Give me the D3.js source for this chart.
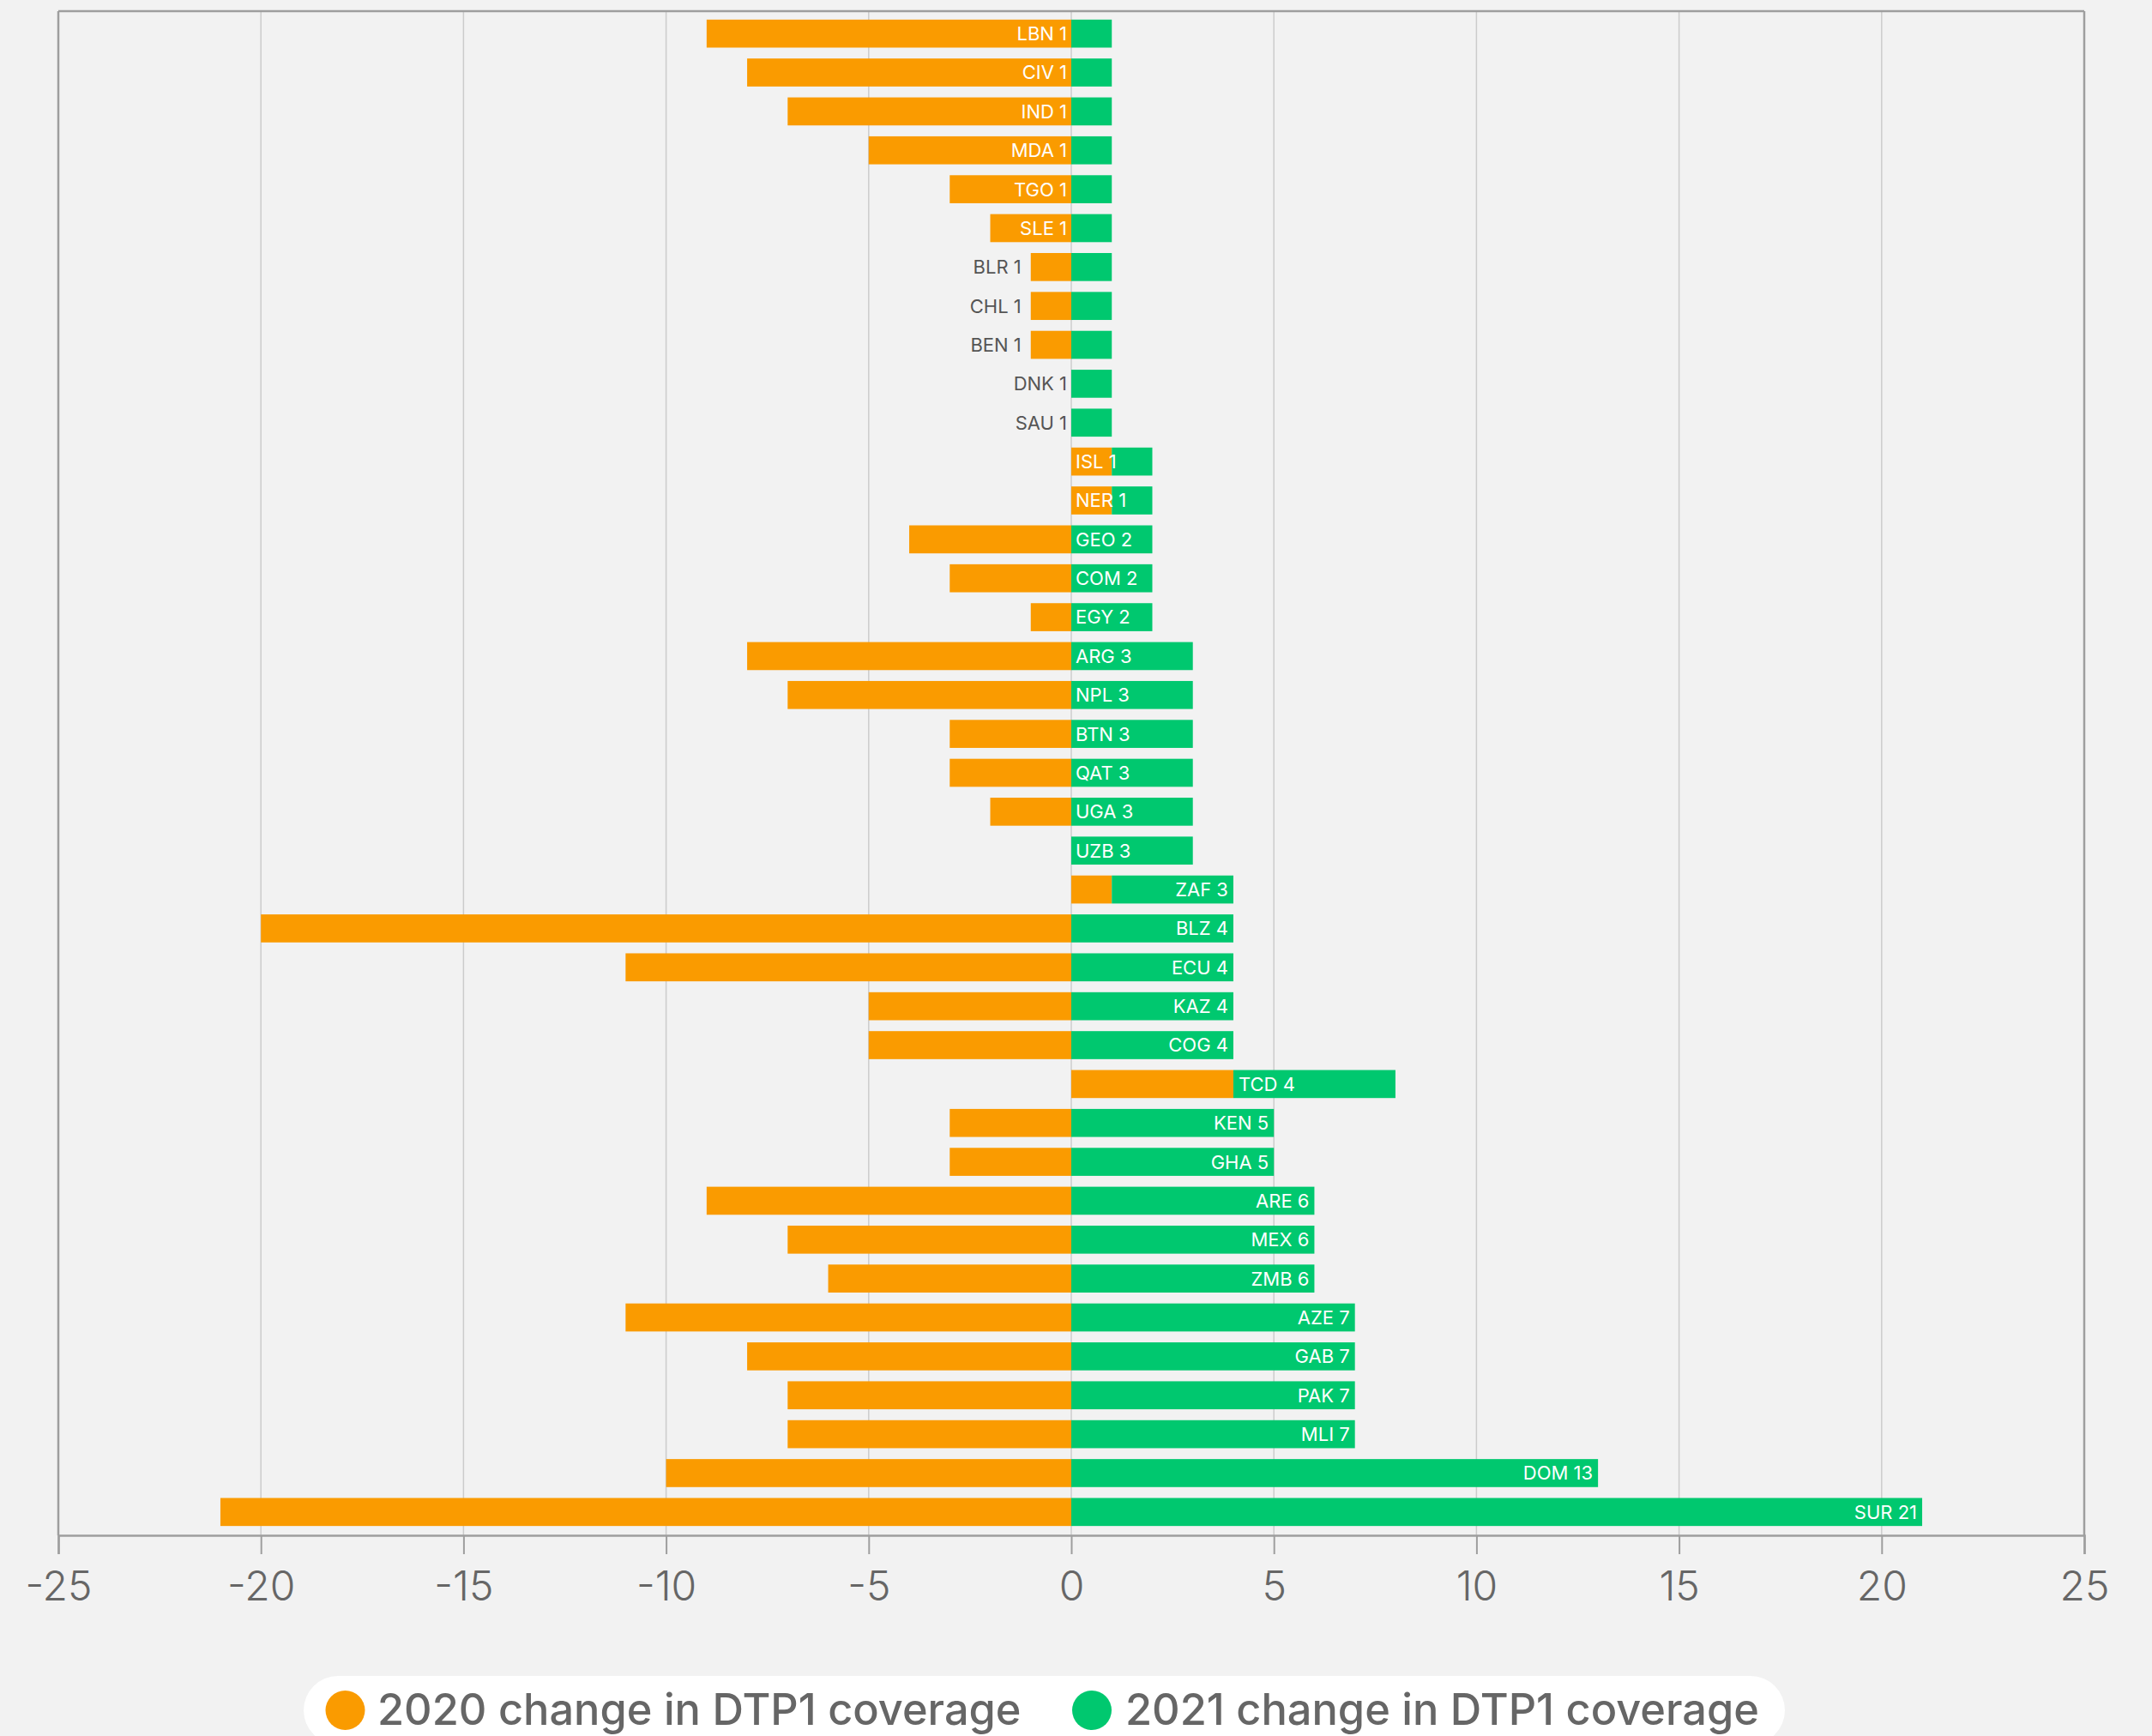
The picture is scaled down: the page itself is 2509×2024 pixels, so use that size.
<!DOCTYPE html>
<html>
<head>
<meta charset="utf-8">
<script src="https://cdn.jsdelivr.net/npm/d3@7"></script>
<style>
  html, body { margin: 0; padding: 0; background: #f2f2f2; }
  svg { display: block; font-family: Inter, "Open Sans", sans-serif; }
</style>
</head>
<body>
<div id="chart"></div>
<script>
// country codes, top to bottom
const countries = ['LBN','CIV','IND','MDA','TGO','SLE','BLR','CHL','BEN','DNK','SAU','ISL','NER',
  'GEO','COM','EGY','ARG','NPL','BTN','QAT','UGA','UZB','ZAF','BLZ','ECU','KAZ','COG','TCD',
  'KEN','GHA','ARE','MEX','ZMB','AZE','GAB','PAK','MLI','DOM','SUR'];
// change in DTP1 coverage (percentage points)
const change2020 = [-9,-8,-7,-5,-3,-2,-1,-1,-1,0,0,1,1,
  -4,-3,-1,-8,-7,-3,-3,-2,0,1,-20,-11,-5,-5,4,
  -3,-3,-9,-7,-6,-11,-8,-7,-7,-10,-21];
const change2021 = [1,1,1,1,1,1,1,1,1,1,1,1,1,
  2,2,2,3,3,3,3,3,3,3,4,4,4,4,4,
  5,5,6,6,6,7,7,7,7,13,21];
const seriesNames = ['2020 change in DTP1 coverage', '2021 change in DTP1 coverage'];
const xTicks = [-25,-20,-15,-10,-5,0,5,10,15,20,25];

const W = 2509, H = 2024;
const orange = '#fa9b00', green = '#00c86f';

const rows = countries.map((c, i) => ({ code: c, y20: change2020[i], y21: change2021[i] }));

const svg = d3.select('#chart').append('svg')
  .attr('width', W)
  .attr('height', H);

svg.append('rect').attr('width', W).attr('height', H).attr('fill', '#f2f2f2');

const x = d3.scaleLinear().domain([-25, 25]).range([68, 2430]);
const y = d3.scaleBand()
  .domain(countries)
  .range([16.5, 1785.5])
  .paddingInner(0.28)
  .paddingOuter(0.14);

const plotTop = 13, plotBottom = 1790;

// grid
svg.append('g')
  .selectAll('line')
  .data(xTicks.filter(t => t > -25 && t < 25))
  .enter()
  .append('line')
  .attr('x1', d => x(d)).attr('x2', d => x(d))
  .attr('y1', plotTop).attr('y2', plotBottom)
  .attr('stroke', '#cccccc')
  .attr('stroke-width', 1.5);

// orange bars: 2020
svg.append('g')
  .selectAll('rect')
  .data(rows)
  .enter()
  .append('rect')
  .attr('x', d => x(Math.min(0, d.y20)))
  .attr('y', d => y(d.code))
  .attr('width', d => Math.abs(x(d.y20) - x(0)))
  .attr('height', y.bandwidth())
  .attr('fill', orange);

// green bars: 2021, stacked on top of a positive 2020 value
svg.append('g')
  .selectAll('rect')
  .data(rows)
  .enter()
  .append('rect')
  .attr('x', d => x(Math.max(0, d.y20)))
  .attr('y', d => y(d.code))
  .attr('width', d => x(Math.max(0, d.y20) + d.y21) - x(Math.max(0, d.y20)))
  .attr('height', y.bandwidth())
  .attr('fill', green);

// frame
const frame = svg.append('g').attr('fill', 'none').attr('stroke', '#9e9e9e').attr('stroke-width', 2.5);
frame.append('line').attr('x1', x(-25)).attr('x2', x(25)).attr('y1', plotTop).attr('y2', plotTop);
frame.append('line').attr('x1', x(-25)).attr('x2', x(-25)).attr('y1', plotTop).attr('y2', plotBottom);
frame.append('line').attr('x1', x(25)).attr('x2', x(25)).attr('y1', plotTop).attr('y2', plotBottom);

// x axis
const xAxis = d3.axisBottom(x)
  .tickValues(xTicks)
  .tickSize(22)
  .tickPadding(20)
  .tickFormat(d => String(d));

const gx = svg.append('g')
  .attr('transform', 'translate(0,' + plotBottom + ')')
  .call(xAxis);
gx.select('.domain').attr('stroke', '#9e9e9e').attr('stroke-width', 2.5);
gx.selectAll('.tick line').attr('stroke', '#9e9e9e').attr('stroke-width', 2);
gx.selectAll('.tick text')
  .attr('fill', '#666')
  .style('font-size', '48px')
  .style('font-weight', '300')
  .style('font-family', 'Inter, "Open Sans", sans-serif');

// labels
const labels = svg.append('g')
  .style('font-size', '22px')
  .style('font-family', 'Inter, "Open Sans", sans-serif');

rows.forEach(d => {
  const t = labels.append('text')
    .attr('y', y(d.code) + y.bandwidth() / 2)
    .attr('dy', '0.36em')
    .text(d.code + ' ' + d.y21);
  const tw = t.node().getComputedTextLength();
  const gStart = Math.max(0, d.y20);
  const gEnd = gStart + d.y21;
  if (d.y21 === 1 && d.y20 <= 0) {
    const ow = x(0) - x(d.y20);
    if (ow >= tw + 10) {
      t.attr('x', x(0) - 5).attr('text-anchor', 'end').attr('fill', '#fff');
    } else {
      t.attr('x', x(d.y20) - (d.y20 < 0 ? 11 : 5)).attr('text-anchor', 'end').attr('fill', '#555');
    }
  } else if (gEnd <= 3) {
    t.attr('x', x(0) + 5).attr('text-anchor', 'start').attr('fill', '#fff');
  } else if (d.y20 >= d.y21) {
    t.attr('x', x(gStart) + 6).attr('text-anchor', 'start').attr('fill', '#fff');
  } else {
    t.attr('x', x(gEnd) - 6).attr('text-anchor', 'end').attr('fill', '#fff');
  }
});

// legend
const legend = svg.append('g');
legend.append('rect')
  .attr('x', 354).attr('y', 1954)
  .attr('width', 2081 - 354).attr('height', 80)
  .attr('rx', 40)
  .attr('fill', '#fff');

const legendItems = [
  { name: seriesNames[0], color: orange, cx: 402.5, tx: 440 },
  { name: seriesNames[1], color: green, cx: 1273, tx: 1312 }
];
legendItems.forEach(it => {
  legend.append('circle').attr('cx', it.cx).attr('cy', 1994).attr('r', 23).attr('fill', it.color);
  legend.append('text')
    .attr('x', it.tx).attr('y', 2011)
    .attr('fill', '#666')
    .style('font-size', '50.5px')
    .style('font-weight', '500')
    .text(it.name);
});
</script>
</body>
</html>
